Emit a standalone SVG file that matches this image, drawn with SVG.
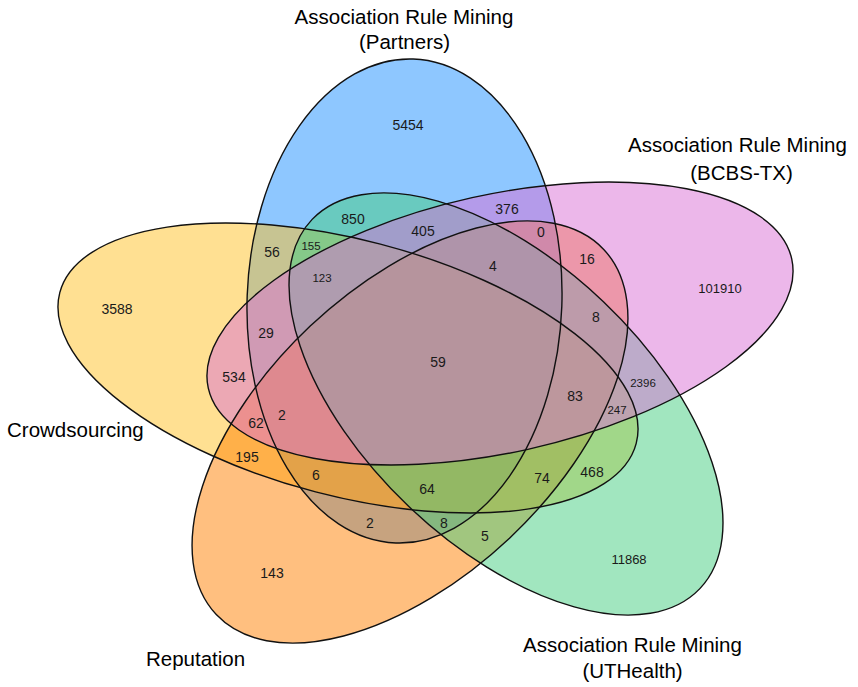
<svg xmlns="http://www.w3.org/2000/svg" xmlns:xlink="http://www.w3.org/1999/xlink" width="858" height="687" viewBox="0 0 858 687">
<style>
.fill{fill-opacity:0.5;stroke:none}
.outline{fill:none;stroke:#111;stroke-width:1.4}
.num{font-family:"Liberation Sans",Arial,sans-serif;font-size:14px;fill:#1a1a1a;text-anchor:middle}
.sm{font-size:11.5px}
.md{font-size:13px}
.cat{font-family:"Liberation Sans",Arial,sans-serif;font-size:20.5px;fill:#000}
.mid{text-anchor:middle}
</style>
<defs>
<ellipse id="e-partners" cx="404.5" cy="301" rx="157.4" ry="242.1" transform="rotate(2.05 404.5 301)"/>
<ellipse id="e-crowd" cx="348" cy="368" rx="297.9" ry="128.1" transform="rotate(14.65 348 368)"/>
<ellipse id="e-rep" cx="410" cy="432" rx="266.2" ry="145.5" transform="rotate(-43.3 410 432)"/>
<ellipse id="e-uth" cx="506" cy="404" rx="267.7" ry="141.3" transform="rotate(43.6 506 404)"/>
<ellipse id="e-bcbs" cx="500" cy="323.5" rx="298.8" ry="128.9" transform="rotate(-12.5 500 323.5)"/>
</defs>
<rect width="858" height="687" fill="#fff"/>
<g id="set-partners"><use xlink:href="#e-partners" class="fill" fill="#1E90FF"/></g>
<g id="set-crowdsourcing"><use xlink:href="#e-crowd" class="fill" fill="#FFC125"/></g>
<g id="set-reputation"><use xlink:href="#e-rep" class="fill" fill="#FF7F00"/></g>
<g id="set-uthealth"><use xlink:href="#e-uth" class="fill" fill="#43CD80"/></g>
<g id="set-bcbs"><use xlink:href="#e-bcbs" class="fill" fill="#DA70D6"/></g>
<g id="outlines">
<use xlink:href="#e-partners" class="outline"/>
<use xlink:href="#e-crowd" class="outline"/>
<use xlink:href="#e-rep" class="outline"/>
<use xlink:href="#e-uth" class="outline"/>
<use xlink:href="#e-bcbs" class="outline"/>
</g>
<g id="counts" class="num">
<text x="408" y="130">5454</text>
<text x="117" y="314">3588</text>
<text x="720" y="293" class="md">101910</text>
<text x="629" y="564" class="md">11868</text>
<text x="272" y="578">143</text>
<text x="353" y="224">850</text>
<text x="423" y="236">405</text>
<text x="272" y="257">56</text>
<text x="311" y="250" class="sm">155</text>
<text x="322" y="282" class="sm">123</text>
<text x="266" y="338">29</text>
<text x="438" y="367">59</text>
<text x="507" y="214">376</text>
<text x="541" y="237">0</text>
<text x="587" y="264">16</text>
<text x="493" y="271">4</text>
<text x="596" y="322">8</text>
<text x="643" y="387" class="sm">2396</text>
<text x="575" y="401">83</text>
<text x="617" y="414" class="sm">247</text>
<text x="234" y="382">534</text>
<text x="256" y="428">62</text>
<text x="282" y="420">2</text>
<text x="247" y="462">195</text>
<text x="316" y="480">6</text>
<text x="427" y="494">64</text>
<text x="370" y="528">2</text>
<text x="444" y="528">8</text>
<text x="542" y="483">74</text>
<text x="592" y="477">468</text>
<text x="485" y="541">5</text>
</g>
<g id="labels" class="cat">
<text x="404" y="24" class="mid">Association Rule Mining</text>
<text x="404.5" y="49" class="mid">(Partners)</text>
<text x="737.5" y="152" class="mid">Association Rule Mining</text>
<text x="741.5" y="180" class="mid">(BCBS-TX)</text>
<text x="632.5" y="652" class="mid">Association Rule Mining</text>
<text x="632.5" y="678" class="mid">(UTHealth)</text>
<text x="7" y="437">Crowdsourcing</text>
<text x="146" y="666">Reputation</text>
</g>
</svg>
